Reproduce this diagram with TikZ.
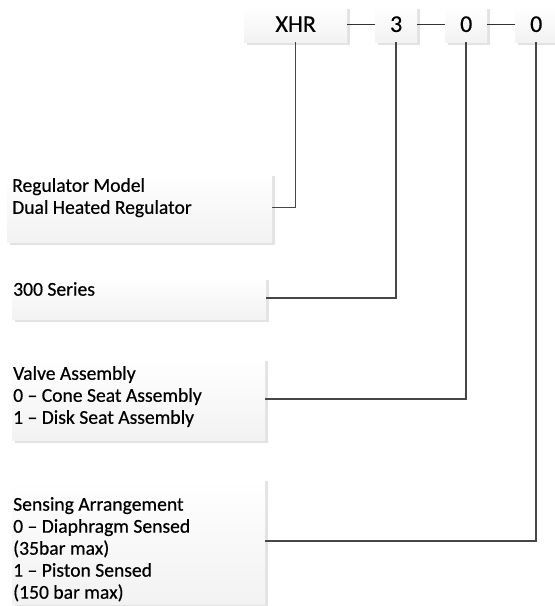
\documentclass[tikz,border=0pt]{standalone}
\usepackage{fontspec}
\setmainfont{Carlito}[FakeBold=0.5]
\usetikzlibrary{positioning, shadows}

\begin{document}
\begin{tikzpicture}[
    x=1pt, y=-1pt,
    codebox/.style={rectangle, anchor=north west, inner sep=0pt, minimum height=36pt, top color=white, bottom color=gray!10, drop shadow={shadow xshift=3pt, shadow yshift=-3pt, fill=gray!22, opacity=1}, font=\fontsize{24}{28}\selectfont},
    infobox/.style={rectangle, anchor=north west, inner sep=0pt, top color=white, bottom color=gray!10, drop shadow={shadow xshift=3pt, shadow yshift=-3pt, fill=gray!22, opacity=1}},
    desc/.style={inner sep=0pt, align=left, font=\fontsize{19.6}{22}\selectfont},
    joinline/.style={line width=1pt, draw=black!80},
    link/.style={line width=1.5pt, draw=black!72}
]
    \useasboundingbox (0,0) rectangle (555,606);

    % code row
    \node[codebox, minimum width=103pt] (xhr) at (244,6) {XHR};
    \node[codebox, minimum width=42pt] (series) at (375,6) {3};
    \node[codebox, minimum width=42pt] (valve) at (445,6) {0};
    \node[codebox, minimum width=42pt] (sensing) at (515,6) {0};

    \draw[joinline] (xhr) -- (series);
    \draw[joinline] (series) -- (valve);
    \draw[joinline] (valve) -- (sensing);

    % description boxes
    \node[infobox, minimum width=265pt, minimum height=69pt] (model) at (7,173) {};
    \node[infobox, minimum width=254pt, minimum height=42pt] (seriesbox) at (12,277) {};
    \node[infobox, minimum width=253pt, minimum height=82pt] (valvebox) at (12,358) {};
    \node[infobox, minimum width=253pt, minimum height=126pt] (sensingbox) at (12,478) {};

    \node[desc, below right=5pt and 5pt of model.north west] (modeltext) {Regulator Model\\Dual Heated Regulator};
    \node[desc, below right=5pt and 1pt of seriesbox.north west] (seriestext) {300 Series};
    \node[desc, below right=8pt and 1pt of valvebox.north west] (valvetext) {Valve Assembly\\0 – Cone Seat Assembly\\1 – Disk Seat Assembly};
    \node[desc, below right=19pt and 1pt of sensingbox.north west] (sensingtext) {Sensing Arrangement\\0 – Diaphragm Sensed\\(35bar max)\\1 – Piston Sensed\\(150 bar max)};

    % connectors
    \draw[link] (xhr.south) |- (model.east);
    \draw[link] (series.south) |- (seriesbox.east);
    \draw[link] (valve.south) |- (valvebox.east);
    \draw[link] (sensing.south) |- (sensingbox.east);
\end{tikzpicture}
\end{document}
